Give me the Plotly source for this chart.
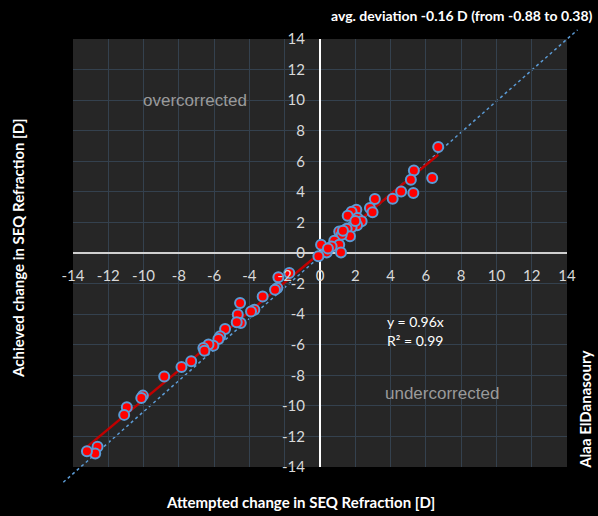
import plotly.graph_objects as go

# ---- data ----
attempted = [6.70, 5.32, 5.15, 6.36, 5.29, 4.60, 4.12, 3.11, 2.83, 2.98, 2.06, 1.79, 1.57,
             2.13, 2.36, 2.10, 1.79, 1.51, 1.70, 1.09, 1.23, 0.81, 1.09, 1.19, 0.66, 0.38,
             0.06, -0.09, 1.30, 2.00, 0.45,
             -1.74, -2.36, -2.42, -2.55, -3.25, -3.72, -3.91, -4.53, -4.66, -4.49, -4.72,
             -5.38, -5.66, -5.76, -6.04, -6.32, -6.61, -6.55, -7.30, -7.85, -8.83, -10.04,
             -10.13, -10.95, -11.10, -12.61, -12.74, -13.21]
achieved = [6.93, 5.40, 4.79, 4.90, 3.92, 4.03, 3.55, 3.53, 2.94, 2.66, 2.83, 2.70, 2.44,
            2.29, 2.07, 1.81, 1.68, 1.59, 1.09, 1.41, 1.20, 0.80, 0.54, 0.04, 0.43, 0.04,
            0.54, -0.22, 1.45, 2.10, 0.30,
            -1.31, -1.59, -2.29, -2.40, -2.84, -3.71, -3.82, -3.27, -4.03, -4.58, -4.53,
            -4.97, -5.45, -5.62, -6.06, -5.99, -6.21, -6.40, -7.08, -7.46, -8.08, -9.33,
            -9.48, -10.09, -10.59, -12.68, -13.12, -12.97]
trend_slope = 0.96
r_squared = 0.99
ticks = list(range(-14, 15, 2))
tick_labels = [str(t) for t in ticks]
axis_range = [-14, 14]
# identity (reference) line endpoints, extending past the plot area
ref_x = [-14.55, 14.6]
ref_y = [-15.0, 14.6]

title_text = "avg. deviation -0.16 D (from -0.88 to 0.38)"

FONT = "Lato"
fig = go.Figure()

# trend line y = 0.96x
tx = [min(attempted), max(attempted)]
ty = [trend_slope * v for v in tx]
fig.add_trace(go.Scatter(x=tx, y=ty, mode="lines",
                         line=dict(color="#c00000", width=2.5), hoverinfo="skip",
                         showlegend=False))

fig.add_trace(go.Scatter(x=attempted, y=achieved, mode="markers",
                         marker=dict(size=10, color="#ff0000",
                                     line=dict(color="#5b9bd5", width=2)),
                         showlegend=False, cliponaxis=False))

# reference line drawn in paper coordinates so it can extend outside plot area
span = axis_range[1] - axis_range[0]
def px(v):
    return (v - axis_range[0]) / span
fig.add_shape(type="line", xref="paper", yref="paper",
              x0=px(ref_x[0]), y0=px(ref_y[0]), x1=px(ref_x[1]), y1=px(ref_y[1]),
              line=dict(color="#5b9bd5", width=1.5, dash="dot"), layer="below")

axis_common = dict(range=axis_range, tickmode="array", tickvals=ticks, ticktext=tick_labels,
                   showgrid=True, gridcolor="#34414e", gridwidth=1,
                   tickfont=dict(family=FONT, size=15, color="#d9d9d9"),
                   ticks="outside", tickcolor="rgba(0,0,0,0)",
                   showline=False, zeroline=True, zerolinewidth=2,
                   anchor="free", position=0.5, fixedrange=True)

fig.update_layout(
    width=598, height=516,
    paper_bgcolor="#000000", plot_bgcolor="#262626",
    margin=dict(l=73, r=31, t=39, b=49),
    xaxis=dict(**axis_common, zerolinecolor="#ffffff", ticklen=9),
    yaxis=dict(**axis_common, zerolinecolor="#d0d0d0", ticklen=12),
    showlegend=False,
)

ann = [
    dict(text=title_text, xref="paper", yref="paper", x=1.057, y=1.054,
         xanchor="right", yanchor="middle", showarrow=False,
         font=dict(family=FONT, size=14, color="#ffffff", weight="bold")),
    dict(text="Attempted change in SEQ Refraction [D]", xref="paper", yref="paper",
         x=0.46, y=-0.082, xanchor="center", yanchor="middle", showarrow=False,
         font=dict(family=FONT, size=15, color="#ffffff", weight="bold")),
    dict(text="Achieved change in SEQ Refraction [D]", xref="paper", yref="paper",
         x=-0.111, y=0.51, xanchor="center", yanchor="middle", showarrow=False,
         textangle=-90,
         font=dict(family=FONT, size=15, color="#ffffff", weight="bold")),
    dict(text="Alaa ElDanasoury", xref="paper", yref="paper",
         x=1.036, y=0.133, xanchor="center", yanchor="middle", showarrow=False,
         textangle=-90,
         font=dict(family=FONT, size=15, color="#ffffff", weight="bold")),
    dict(text="overcorrected", x=-7.08, y=10, showarrow=False,
         xanchor="center", yanchor="middle",
         font=dict(family="Liberation Sans", size=17, color="#9a9a9a")),
    dict(text="undercorrected", x=6.89, y=-9.2, showarrow=False,
         xanchor="center", yanchor="middle",
         font=dict(family="Liberation Sans", size=17, color="#9a9a9a")),
    dict(text=f"y = {trend_slope:.2f}x", x=3.68, y=-4.47, showarrow=False,
         xanchor="left", yanchor="middle",
         font=dict(family=FONT, size=14, color="#ffffff")),
    dict(text=f"R² = {r_squared:.2f}", x=3.68, y=-5.73, showarrow=False,
         xanchor="left", yanchor="middle",
         font=dict(family=FONT, size=14, color="#ffffff")),
]
fig.update_layout(annotations=ann)

fig.write_html("out.html", config={"displayModeBar": False},
               post_script="document.body.style.margin='0';document.body.style.padding='0';")
